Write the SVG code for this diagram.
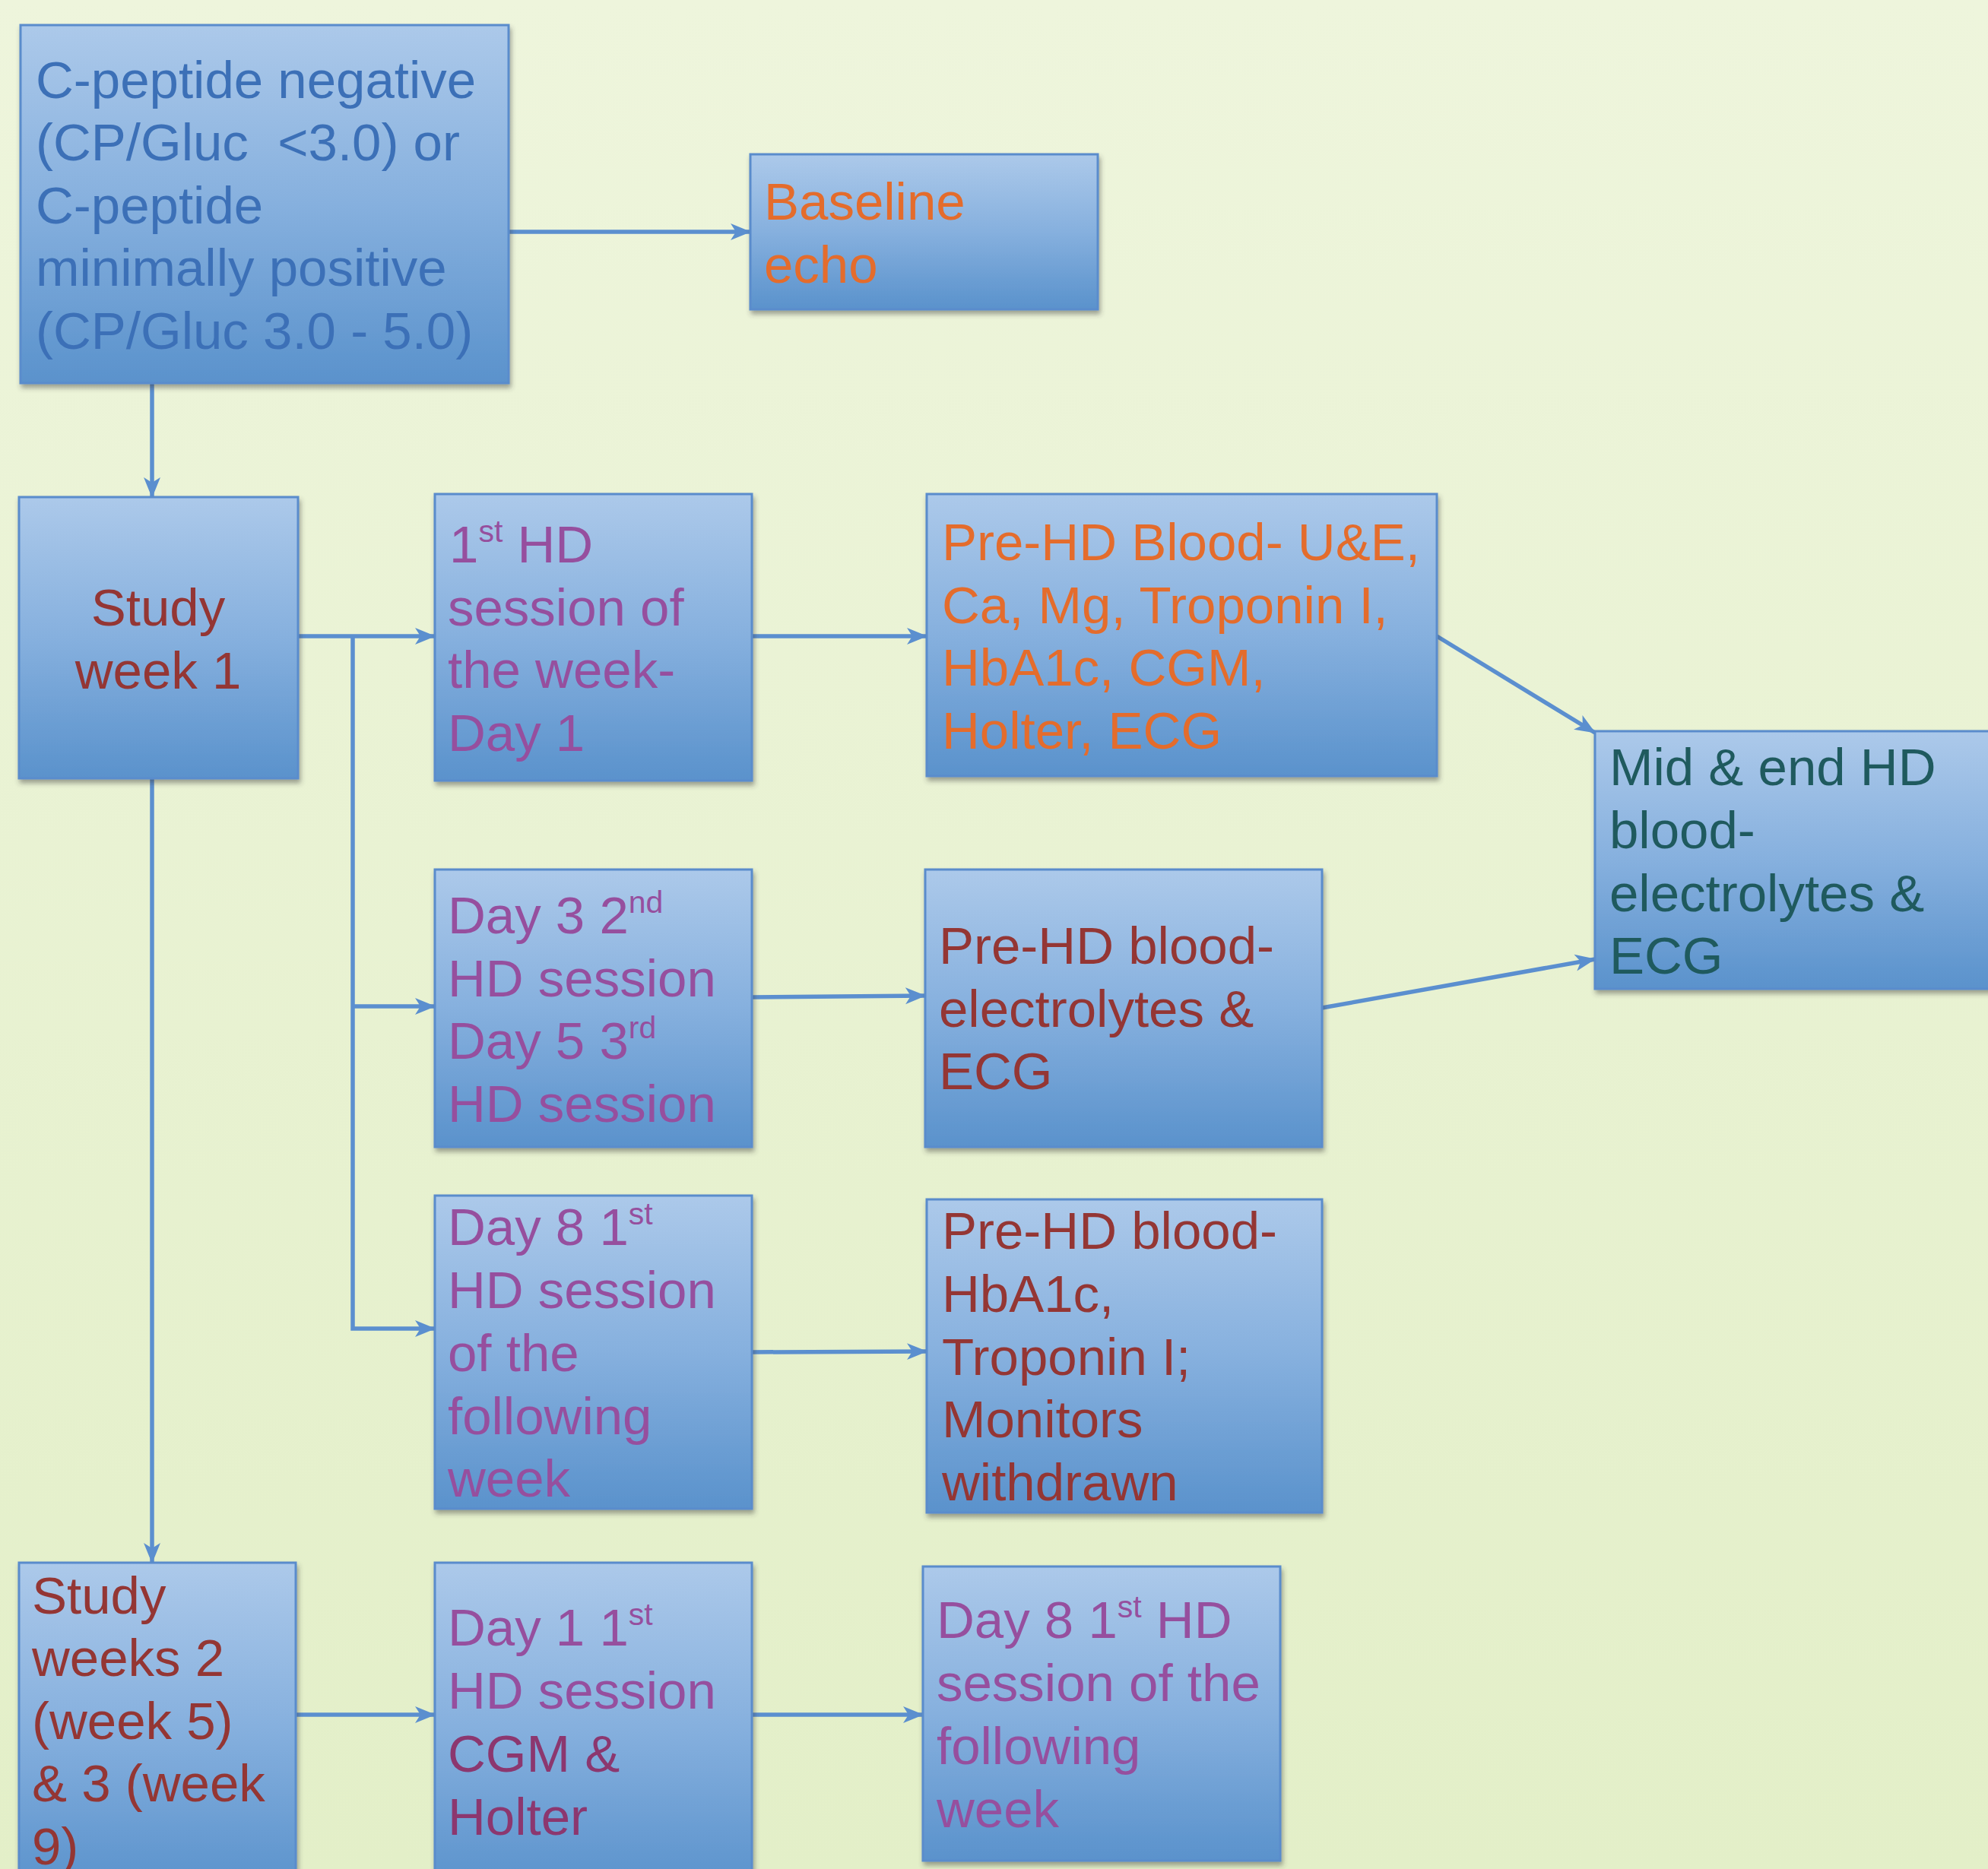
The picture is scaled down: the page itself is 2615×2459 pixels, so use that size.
<svg xmlns="http://www.w3.org/2000/svg" width="2615" height="2459" viewBox="0 0 2615 2459">
<defs>
<linearGradient id="bg" x1="0" y1="0" x2="0" y2="1">
<stop offset="0" stop-color="#eef5dc"/>
<stop offset="1" stop-color="#e3efc8"/>
</linearGradient>
<linearGradient id="box" x1="0" y1="0" x2="0" y2="1">
<stop offset="0" stop-color="#acc9ea"/>
<stop offset="0.5" stop-color="#86b0de"/>
<stop offset="1" stop-color="#5a92cc"/>
</linearGradient>
<filter id="sh" x="-10%" y="-10%" width="120%" height="125%">
<feDropShadow dx="2" dy="5" stdDeviation="3" flood-color="#3a3a3a" flood-opacity="0.45"/>
</filter>
<marker id="arr" markerUnits="userSpaceOnUse" markerWidth="28" markerHeight="28" viewBox="0 0 28 28" refX="26" refY="14" orient="auto">
<path d="M0,3 L27,14 L0,25 L7,14 Z" fill="#5b8fcf"/>
</marker>
</defs>
<style>
.bx{fill:url(#box);stroke:#5a8ccc;stroke-width:3;filter:url(#sh);}
.t{font-family:"Liberation Sans",Arial,sans-serif;font-size:69px;}
.blue{fill:#3c70b7;}
.org{fill:#e46c2c;}
.red{fill:#943634;}
.pur{fill:#964f9e;}
.mag{fill:#8c376f;}
.teal{fill:#1f5a5e;}
.sup{font-size:41px;}
.c{fill:none;stroke:#5b8fcf;stroke-width:5.5;}
</style>
<rect x="0" y="0" width="2615" height="2459" fill="url(#bg)"/>

<g id="connectors">
<line class="c" x1="659" y1="305" x2="987" y2="305" marker-end="url(#arr)"/>
<line class="c" x1="200" y1="504" x2="200" y2="654" marker-end="url(#arr)"/>
<line class="c" x1="392" y1="837" x2="572" y2="837" marker-end="url(#arr)"/>
<polyline class="c" points="464,837 464,1748 572,1748" marker-end="url(#arr)"/>
<line class="c" x1="464" y1="1324" x2="572" y2="1324" marker-end="url(#arr)"/>
<line class="c" x1="200" y1="1024" x2="200" y2="2056" marker-end="url(#arr)"/>
<line class="c" x1="989" y1="837" x2="1219" y2="837" marker-end="url(#arr)"/>
<line class="c" x1="989" y1="1312" x2="1217" y2="1310" marker-end="url(#arr)"/>
<line class="c" x1="989" y1="1779" x2="1219" y2="1778" marker-end="url(#arr)"/>
<line class="c" x1="1890" y1="837" x2="2098" y2="964" marker-end="url(#arr)"/>
<line class="c" x1="1739" y1="1326" x2="2098" y2="1262" marker-end="url(#arr)"/>
<line class="c" x1="389" y1="2256" x2="572" y2="2256" marker-end="url(#arr)"/>
<line class="c" x1="989" y1="2256" x2="1214" y2="2256" marker-end="url(#arr)"/>
</g>

<g id="n-cpeptide">
<rect class="bx" x="27" y="33" width="642" height="471"/>
<text class="t blue"><tspan x="47" y="129">C-peptide negative</tspan><tspan x="47" y="211">(CP/Gluc &#160;&lt;3.0) or</tspan><tspan x="47" y="294">C-peptide</tspan><tspan x="47" y="376">minimally positive</tspan><tspan x="47" y="459">(CP/Gluc 3.0 - 5.0)</tspan></text>
</g>

<g id="n-baseline">
<rect class="bx" x="987" y="203" width="457" height="204"/>
<text class="t org"><tspan x="1005" y="289">Baseline</tspan><tspan x="1005" y="372">echo</tspan></text>
</g>

<g id="n-week1">
<rect class="bx" x="25" y="654" width="367" height="370"/>
<text class="t red" text-anchor="middle"><tspan x="208" y="823">Study</tspan><tspan x="208" y="906">week 1</tspan></text>
</g>

<g id="n-hd1">
<rect class="bx" x="572" y="650" width="417" height="377"/>
<text class="t pur" x="591" y="740">1<tspan class="sup" dy="-27">st</tspan><tspan dy="27"> HD</tspan></text>
<text class="t pur"><tspan x="589" y="823">session of</tspan><tspan x="589" y="905">the week-</tspan><tspan x="589" y="988">Day 1</tspan></text>
</g>

<g id="n-preblood1">
<rect class="bx" x="1219" y="650" width="671" height="371"/>
<text class="t org"><tspan x="1239" y="737">Pre-HD Blood- U&amp;E,</tspan><tspan x="1239" y="820">Ca, Mg, Troponin I,</tspan><tspan x="1239" y="902">HbA1c, CGM,</tspan><tspan x="1239" y="985">Holter, ECG</tspan></text>
</g>

<g id="n-midend">
<rect class="bx" x="2098" y="962" width="540" height="339"/>
<text class="t teal"><tspan x="2117" y="1033">Mid &amp; end HD</tspan><tspan x="2117" y="1116">blood-</tspan><tspan x="2117" y="1199">electrolytes &amp;</tspan><tspan x="2117" y="1281">ECG</tspan></text>
</g>

<g id="n-day3">
<rect class="bx" x="572" y="1144" width="417" height="365"/>
<text class="t pur" x="589" y="1228">Day 3 2<tspan class="sup" dy="-27">nd</tspan></text>
<text class="t pur" x="589" y="1311">HD session</text>
<text class="t pur" x="589" y="1393">Day 5 3<tspan class="sup" dy="-27">rd</tspan></text>
<text class="t pur" x="589" y="1476">HD session</text>
</g>

<g id="n-preblood2">
<rect class="bx" x="1217" y="1144" width="522" height="365"/>
<text class="t red"><tspan x="1235" y="1268">Pre-HD blood-</tspan><tspan x="1235" y="1351">electrolytes &amp;</tspan><tspan x="1235" y="1433">ECG</tspan></text>
</g>

<g id="n-day8">
<rect class="bx" x="572" y="1573" width="417" height="412"/>
<text class="t pur" x="589" y="1638">Day 8 1<tspan class="sup" dy="-27">st</tspan></text>
<text class="t pur"><tspan x="589" y="1721">HD session</tspan><tspan x="589" y="1804">of the</tspan><tspan x="589" y="1887">following</tspan><tspan x="589" y="1969">week</tspan></text>
</g>

<g id="n-preblood3">
<rect class="bx" x="1219" y="1578" width="520" height="412"/>
<text class="t red"><tspan x="1239" y="1643">Pre-HD blood-</tspan><tspan x="1239" y="1726">HbA1c,</tspan><tspan x="1239" y="1809">Troponin I;</tspan><tspan x="1239" y="1891">Monitors</tspan><tspan x="1239" y="1974">withdrawn</tspan></text>
</g>

<g id="n-weeks2">
<rect class="bx" x="25" y="2056" width="364" height="430"/>
<text class="t red"><tspan x="42" y="2123">Study</tspan><tspan x="42" y="2205">weeks 2</tspan><tspan x="42" y="2288">(week 5)</tspan><tspan x="42" y="2370">&amp; 3 (week</tspan><tspan x="42" y="2453">9)</tspan></text>
</g>

<g id="n-day1">
<rect class="bx" x="572" y="2056" width="417" height="430"/>
<text class="t pur" x="589" y="2165">Day 1 1<tspan class="sup" dy="-27">st</tspan></text>
<text class="t pur" x="589" y="2248">HD session</text>
<text class="t mag"><tspan x="589" y="2331">CGM &amp;</tspan><tspan x="589" y="2414">Holter</tspan></text>
</g>

<g id="n-day8b">
<rect class="bx" x="1214" y="2061" width="470" height="387"/>
<text class="t pur" x="1232" y="2155">Day 8 1<tspan class="sup" dy="-27">st</tspan><tspan dy="27"> HD</tspan></text>
<text class="t pur"><tspan x="1232" y="2238">session of the</tspan><tspan x="1232" y="2321">following</tspan><tspan x="1232" y="2404">week</tspan></text>
</g>
</svg>
